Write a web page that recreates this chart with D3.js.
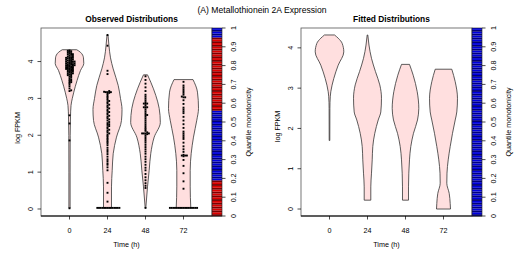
<!DOCTYPE html>
<html><head><meta charset="utf-8">
<script src="https://cdn.jsdelivr.net/npm/d3@7"></script>
<style>body{margin:0;background:#fff}svg{display:block;font-family:"Liberation Sans",Arial,sans-serif}text{fill:#000}</style>
</head><body><svg id="c" width="523" height="262"></svg>
<script>
const mainTitle = "(A)  Metallothionein 2A Expression";
const panelTitles = ["Observed Distributions", "Fitted Distributions"];
const categories = ["0", "24", "48", "72"];
const xTitle = "Time (h)";
const yTitle = "log FPKM";
const barTitle = "Quantile monotonicity";
const yTicksLeft = [0, 1, 2, 3, 4];
const yTicksRight = [0, 1, 2, 3, 4];
const barTicks = [0, 0.1, 0.2, 0.3, 0.4, 0.5, 0.6, 0.7, 0.8, 0.9, 1];

// violin profiles: [value, half width (x units)]
const obsViolin0 = [[0.02,0.016],[1.0,0.016],[2.0,0.018],[2.5,0.026],[2.81,0.04],[3.0,0.074],[3.17,0.113],[3.49,0.2],[3.76,0.29],[3.95,0.376],[4.1,0.368],[4.25,0.29],[4.32,0.19]];
const obsViolin24 = [[0.03,0.105],[0.6,0.105],[1.05,0.124],[1.5,0.15],[1.95,0.237],[2.4,0.368],[2.7,0.382],[3.0,0.342],[3.35,0.282],[3.8,0.15],[4.1,0.079],[4.43,0.039],[4.72,0.013]];
const obsViolin48 = [[0.03,0.008],[0.6,0.053],[1.05,0.097],[1.51,0.139],[1.95,0.229],[2.35,0.39],[2.73,0.36],[3.08,0.271],[3.44,0.139],[3.64,0.053]];
const obsViolin72 = [[0.03,0.192],[0.6,0.176],[1.05,0.176],[1.51,0.203],[1.95,0.263],[2.41,0.35],[2.73,0.395],[3.17,0.368],[3.51,0.25]];

const fitViolin0 = [[1.7,0.008],[2.5,0.01],[2.8,0.021],[2.91,0.034],[3.24,0.113],[3.57,0.229],[3.9,0.376],[4.11,0.334],[4.24,0.229],[4.32,0.132]];
const fitViolin24 = [[0.22,0.087],[0.55,0.087],[0.89,0.105],[1.22,0.124],[1.55,0.139],[1.88,0.192],[2.21,0.282],[2.41,0.35],[2.75,0.368],[3.08,0.324],[3.41,0.21],[3.74,0.105],[4.07,0.039],[4.32,0.008]];
const fitViolin48 = [[0.22,0.079],[0.55,0.079],[0.89,0.087],[1.22,0.105],[1.55,0.139],[1.88,0.21],[2.21,0.316],[2.5,0.35],[2.91,0.308],[3.32,0.203],[3.59,0.105]];
const fitViolin72 = [[0.0,0.184],[0.14,0.176],[0.39,0.15],[0.64,0.087],[0.89,0.092],[1.22,0.124],[1.55,0.176],[1.88,0.237],[2.21,0.308],[2.41,0.35],[2.75,0.368],[3.16,0.308],[3.47,0.218]];

// observed points (log FPKM)
const obsPoints0 = [4.30,4.29,4.28,4.26,4.25,4.23,4.22,4.2,4.2,4.18,4.17,4.15,4.14,4.12,4.12,4.1,4.1,4.09,4.08,4.07,4.05,4.05,4.04,4.03,4.02,4.0,4.0,4.0,3.99,3.98,3.97,3.96,3.95,3.95,3.94,3.93,3.92,3.92,3.9,3.9,3.9,3.89,3.88,3.87,3.86,3.85,3.85,3.84,3.83,3.82,3.81,3.8,3.8,3.79,3.78,3.77,3.76,3.75,3.74,3.73,3.72,3.71,3.7,3.68,3.67,3.66,3.65,3.63,3.62,3.6,3.58,3.55,3.52,3.5,3.48,3.46,3.44,3.42,3.38,3.33,3.27,3.22,3.2,2.54,2.32,1.86,0.02];
const obsPoints24 = [0.03,0.03,0.03,0.03,0.03,0.03,0.03,0.03,0.03,0.03,0.03,0.03,0.03,0.03,0.2,0.44,0.71,1.05,1.13,1.2,1.24,1.3,1.35,1.42,1.49,1.55,1.6,1.66,1.73,1.78,1.82,1.86,1.9,1.94,1.98,2.02,2.05,2.08,2.12,2.15,2.18,2.22,2.25,2.28,2.3,2.33,2.36,2.4,2.43,2.46,2.5,2.53,2.56,2.6,2.63,2.66,2.7,2.73,2.76,2.8,2.83,2.86,2.9,2.93,2.96,3.0,3.04,3.08,3.12,3.15,3.17,3.17,3.17,3.18,3.2,3.66,3.75,4.43,4.72];
const obsPoints48 = [0.03,0.57,0.63,0.7,0.78,0.86,0.95,1.05,1.12,1.2,1.28,1.35,1.42,1.5,1.56,1.62,1.68,1.74,1.8,1.85,1.9,1.95,2.0,2.03,2.05,2.05,2.05,2.05,2.08,2.12,2.16,2.2,2.25,2.3,2.35,2.4,2.45,2.5,2.55,2.55,2.6,2.65,2.7,2.75,2.76,2.76,2.8,2.85,2.86,2.86,2.9,2.95,3.0,3.05,3.1,3.2,3.3,3.4,3.5,3.6];
const obsPoints72 = [0.03,0.03,0.03,0.03,0.03,0.03,0.03,0.03,0.03,0.03,0.03,0.03,0.03,0.03,0.03,0.03,0.03,0.55,0.75,0.97,1.17,1.33,1.43,1.45,1.45,1.45,1.47,1.55,1.62,1.7,1.8,1.9,1.95,2.0,2.05,2.1,2.2,2.3,2.4,2.5,2.6,2.65,2.7,2.75,2.85,2.95,3.03,3.03,3.05,3.1,3.15,3.2,3.25,3.3,3.35,3.45];

// quantile monotonicity per quantile (1 = increasing/red, -1 = decreasing/blue), bottom to top
const monoObserved = [1,1,1,1,1,1,1,1,1,1,1,1,1,1,1,1,1,1,1,-1,-1,-1,-1,-1,-1,-1,-1,-1,-1,-1,-1,-1,-1,-1,-1,-1,-1,-1,-1,-1,-1,-1,-1,-1,-1,-1,-1,-1,-1,-1,-1,-1,-1,-1,-1,-1,1,1,1,1,1,1,1,1,1,1,1,1,1,1,1,1,1,1,1,1,1,1,1,1,1,1,1,1,1,1,1,1,1,1,1,1,1,1,1,-1,-1,-1,-1,-1];
const monoFitted = [-1,-1,-1,-1,-1,-1,-1,-1,-1,-1,-1,-1,-1,-1,-1,-1,-1,-1,-1,-1,-1,-1,-1,-1,-1,-1,-1,-1,-1,-1,-1,-1,-1,-1,-1,-1,-1,-1,-1,-1,-1,-1,-1,-1,-1,-1,-1,-1,-1,-1,-1,-1,-1,-1,-1,-1,-1,-1,-1,-1,-1,-1,-1,-1,-1,-1,-1,-1,-1,-1,-1,-1,-1,-1,-1,-1,-1,-1,-1,-1,-1,-1,-1,-1,-1,-1,-1,-1,-1,-1,-1,-1,-1,-1,-1,-1,-1,-1,-1,-1];

const svg = d3.select("#c");
const FONT = 7.2;

svg.append("text").attr("x", 262).attr("y", 13).attr("text-anchor", "middle")
  .attr("font-size", 8.6).attr("fill", "#000").text(mainTitle);

function panel(opt) {
  const x = d3.scaleLinear().domain([0.25, 4.75]).range([opt.x0, opt.x1]);
  const y = d3.scaleLinear().domain(opt.yDomain).range([216, 28]);
  const g = svg.append("g");

  // violins
  const area = d3.area()
    .y(d => y(d[0]))
    .curve(d3.curveMonotoneY);
  opt.violins.forEach((prof, i) => {
    const c = i + 1;
    g.append("path").datum(prof)
      .attr("d", area.x0(d => x(c - d[1])).x1(d => x(c + d[1])))
      .attr("fill", "#ffdfdf").attr("stroke", "#333").attr("stroke-width", 0.8);
  });

  // points (simple swarm)
  if (opt.points) {
    opt.points.forEach((vals, i) => {
      const cx = x(i + 1);
      const placed = [];
      const d = 1.7;
      vals.slice().sort((a, b) => a - b).forEach(v => {
        const py = y(v);
        let k = 0, off = 0;
        while (true) {
          off = k === 0 ? 0 : (k % 2 ? 1 : -1) * Math.ceil(k / 2) * d;
          if (!placed.some(p => Math.abs(p[0] - off) < d * 0.95 && Math.abs(p[1] - py) < 1.4)) break;
          k++;
        }
        placed.push([off, py]);
        g.append("rect").attr("x", cx + off - 0.95).attr("y", py - 0.95)
          .attr("width", 1.9).attr("height", 1.9).attr("fill", "#000");
      });
    });
  }

  // frame
  g.append("rect").attr("x", opt.x0).attr("y", 28).attr("width", opt.x1 - opt.x0).attr("height", 188)
    .attr("fill", "none").attr("stroke", "#555").attr("stroke-width", 0.8);
  g.append("line").attr("x1", opt.x0).attr("x2", opt.x1 + 10).attr("y1", 216).attr("y2", 216)
    .attr("stroke", "#000").attr("stroke-width", 1.2);

  // x axis
  categories.forEach((cat, i) => {
    const px = x(i + 1);
    g.append("line").attr("x1", px).attr("x2", px).attr("y1", 216).attr("y2", 219.5).attr("stroke", "#000").attr("stroke-width", 0.7);
    g.append("text").attr("x", px).attr("y", 233).attr("text-anchor", "middle").attr("font-size", FONT).attr("fill", "#000").text(cat);
  });
  g.append("text").attr("x", x(2.5)).attr("y", 247).attr("text-anchor", "middle").attr("font-size", FONT).attr("fill", "#000").text(xTitle);

  // y axis
  opt.yTicks.forEach(t => {
    const py = y(t);
    g.append("line").attr("x1", opt.x0 - 3.5).attr("x2", opt.x0).attr("y1", py).attr("y2", py).attr("stroke", "#000").attr("stroke-width", 0.7);
    g.append("text").attr("transform", `translate(${opt.x0 - 8.5},${py}) rotate(-90)`)
      .attr("text-anchor", "middle").attr("font-size", FONT).attr("fill", "#000").text(t);
  });
  g.append("text").attr("transform", `translate(${opt.x0 - 21.5},${y(opt.yLabelAt)}) rotate(-90)`)
    .attr("text-anchor", "middle").attr("font-size", FONT).attr("fill", "#000").text(yTitle);

  // color bar
  const bx0 = opt.x1, bx1 = opt.x1 + 10;
  const q = d3.scaleLinear().domain([0, 1]).range([216, 28]);
  const n = opt.mono.length;
  opt.mono.forEach((m, i) => {
    const ya = q((i + 1) / n), yb = q(i / n);
    g.append("rect").attr("x", bx0).attr("y", ya).attr("width", bx1 - bx0).attr("height", yb - ya)
      .attr("fill", m > 0 ? (i % 2 ? "#dd0000" : "#7a0000") : (i % 2 ? "#0000dd" : "#00007a"))
      .attr("stroke", "none");
  });
  g.append("rect").attr("x", bx0).attr("y", 28).attr("width", 10).attr("height", 188)
    .attr("fill", "none").attr("stroke", "#222").attr("stroke-width", 0.6);
  barTicks.forEach(t => {
    const py = q(t);
    g.append("line").attr("x1", bx1).attr("x2", bx1 + 3.5).attr("y1", py).attr("y2", py).attr("stroke", "#000").attr("stroke-width", 0.7);
    g.append("text").attr("transform", `translate(${bx1 + 13.5},${py}) rotate(-90)`)
      .attr("text-anchor", "middle").attr("font-size", FONT).attr("fill", "#000").text(t);
  });
  g.append("text").attr("transform", `translate(${bx1 + 28.5},${q(0.5)}) rotate(-90)`)
    .attr("text-anchor", "middle").attr("font-size", FONT).attr("fill", "#000").text(barTitle);

  // panel title
  g.append("text").attr("x", (opt.x0 + bx1) / 2).attr("y", 22).attr("text-anchor", "middle")
    .attr("font-size", 8.4).attr("font-weight", "bold").attr("fill", "#000").text(opt.title);
}

panel({ x0: 41, x1: 212, yDomain: [-0.19, 4.91], yTicks: yTicksLeft, yLabelAt: 2.2,
  violins: [obsViolin0, obsViolin24, obsViolin48, obsViolin72],
  points: [obsPoints0, obsPoints24, obsPoints48, obsPoints72],
  mono: monoObserved, title: panelTitles[0] });
panel({ x0: 301, x1: 472, yDomain: [-0.173, 4.493], yTicks: yTicksRight, yLabelAt: 2.05,
  violins: [fitViolin0, fitViolin24, fitViolin48, fitViolin72],
  points: null, mono: monoFitted, title: panelTitles[1] });
</script></body></html>
